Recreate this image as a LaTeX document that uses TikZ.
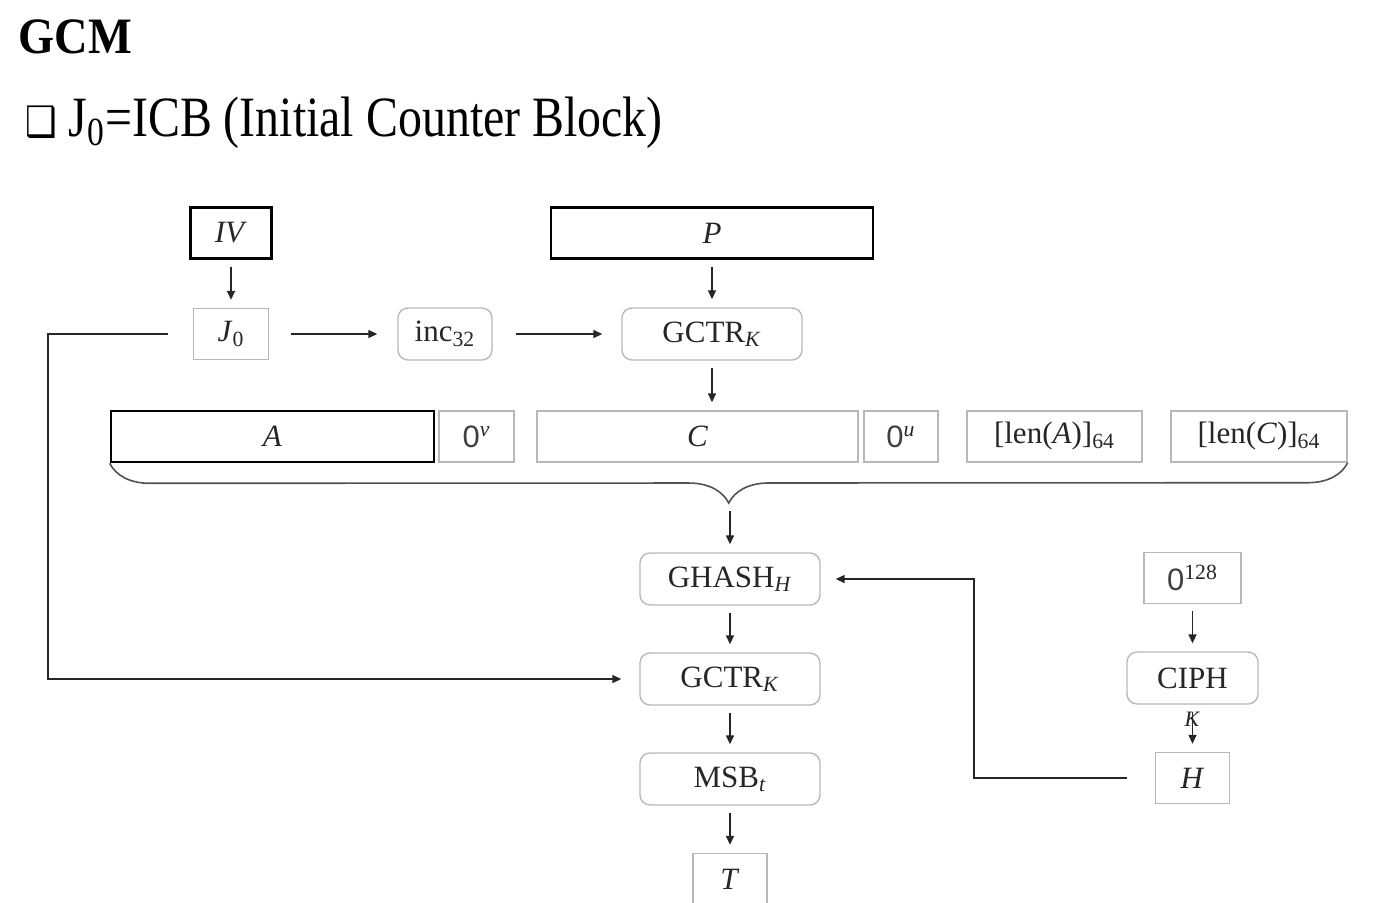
\documentclass[tikz,border=0pt]{standalone}
\usepackage{fontspec}
\setmainfont{Liberation Serif}
\setsansfont{Liberation Sans}
\newfontfamily\symfont{DejaVu Sans}
\usepackage{xcolor}
\usepackage{graphicx}
\usetikzlibrary{arrows.meta, decorations.pathreplacing}
\newcommand{\bx}{\fontsize{15.5}{18}\selectfont}
\newcommand{\zr}{{\sffamily\color{black!75}0}}
\definecolor{edgegray}{gray}{0.72}
\definecolor{ink}{gray}{0.15}

\begin{document}
\begin{tikzpicture}[x=0.5pt, y=-0.5pt, node distance = 50pt,
    thickbox/.style = {draw=black, line width=1.3pt, inner sep=0pt, minimum height=25.5pt, font=\bx, text=ink},
    plainbox/.style = {draw=edgegray, line width=0.7pt, inner sep=0pt, minimum height=25.5pt, font=\bx, text=ink},
    roundbox/.style = {plainbox, rounded corners=5pt, minimum height=26pt},
    arr/.style = {draw=ink, line width=0.75pt, -{Triangle[length=4.5pt, width=4pt]}, shorten <=3.5pt, shorten >=4pt},
    brace/.style = {draw=ink!80, line width=0.8pt, decorate, decoration={brace, mirror, amplitude=20pt}}]
    \useasboundingbox (0,0) rectangle (1387,902);

    \node[anchor=base west, inner sep=0pt, font=\fontsize{25.5}{30}\selectfont\bfseries] (title) at (18,53)
      {\scalebox{0.91}[1]{GCM}};
    \node[anchor=base west, inner sep=0pt, font=\fontsize{28.5}{32}\selectfont] (point) at (25,136)
      {\scalebox{0.84}[1]{{\symfont\fontsize{21}{22}\selectfont ❑} J\textsubscript{0}=ICB (Initial Counter Block)}};

    \node[thickbox, minimum width=40.5pt] (IV) at (231,233) {\textit{IV}};
    \node[thickbox, minimum width=161pt] (P) at (712,233) {\textit{P}};
    \node[plainbox, minimum width=37.5pt] (J0) at (231,334) {\textit{J}\textsubscript{0}};
    \node[roundbox, minimum width=47pt] (inc) at (445,334) {inc\textsubscript{32}};
    \node[roundbox, minimum width=90pt] (gctrA) at (712,334) {GCTR\textsubscript{\textit{K}}};

    \node[thickbox, minimum width=161.5pt] (A) at (272.5,436.5) {\textit{A}};
    \foreach \n/\x/\w/\t in {zv/476.5/37.5/{\zr\textsuperscript{\textit{v}}}, C/697.5/160.5/{\textit{C}},
        zu/901/37/{\zr\textsuperscript{\textit{u}}}, lenA/1054.5/87.5/{[len(\textit{A})]\textsubscript{64}},
        lenC/1259/88/{[len(\textit{C})]\textsubscript{64}}} {
      \node[plainbox, minimum width=\w pt] (\n) at (\x,436.5) {\t};
    }
    \draw[brace] (A.south west) -- (lenC.south east);
    \coordinate (tip) at (730,504);

    \node[roundbox, minimum width=90pt] (ghash) at (730,579) {GHASH\textsubscript{\textit{H}}};
    \node[roundbox, minimum width=90pt, below of = ghash] (gctrB) {GCTR\textsubscript{\textit{K}}};
    \node[roundbox, minimum width=90pt, below of = gctrB] (msb) {MSB\textsubscript{\textit{t}}};
    \node[plainbox, minimum width=37pt, below of = msb] (T) {\textit{T}};

    \node[plainbox, minimum width=48.5pt] (zero) at (1192.5,578) {\zr\textsuperscript{128}};
    \node[roundbox, minimum width=65.5pt, below of = zero] (ciph) {CIPH};
    \node[plainbox, minimum width=37pt, below of = ciph] (H) {\textit{H}};

    \foreach \i\j in {IV/J0, P/gctrA, gctrA/C, ghash/gctrB, gctrB/msb, msb/T, zero/ciph} {
      \draw[arr] (\i.south) -- (\i.south |- \j.north);
    }
    \draw[arr] (tip) -- (ghash.north);
    \draw[arr] (ciph.south) -- node[pos=0.3, inner sep=0pt, text=ink, font=\fontsize{11}{12}\selectfont] (k) {\textit{K}} (H.north);
    \draw[arr, shorten <=11pt, shorten >=10pt] (J0) -- (inc);
    \draw[arr, shorten <=11.5pt, shorten >=9.5pt] (inc) -- (gctrA);
    \draw[arr, shorten <=12.5pt, shorten >=9pt] (J0.west) -- ++(-145,0) |- (gctrB.west);
    \draw[arr, shorten <=14pt, shorten >=7.5pt] (H.west) -- ++(-181,0) |- (ghash.east);
  \end{tikzpicture}
\end{document}
